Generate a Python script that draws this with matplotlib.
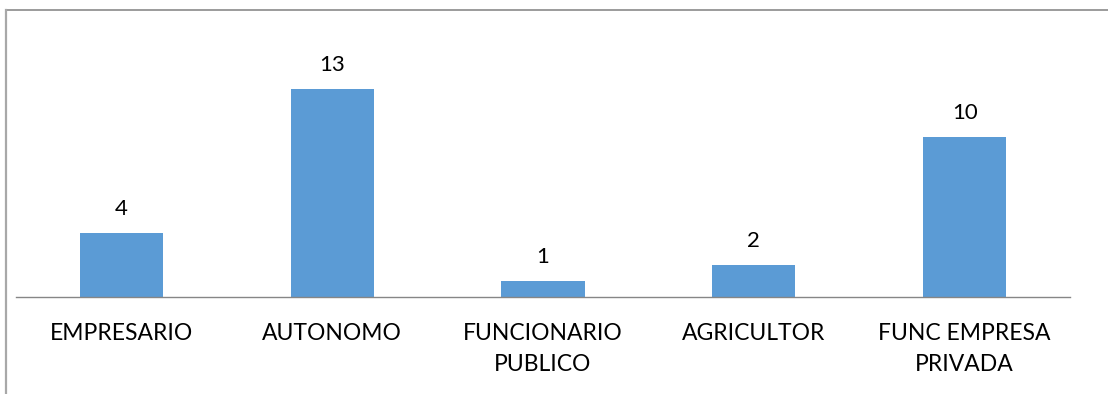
import matplotlib
matplotlib.use('Agg')
import matplotlib.pyplot as plt
from matplotlib.lines import Line2D

categories = ['EMPRESARIO', 'AUTONOMO', 'FUNCIONARIO\nPUBLICO', 'AGRICULTOR', 'FUNC EMPRESA\nPRIVADA']
counts = [4, 13, 1, 2, 10]

bar_color = '#5B9BD5'
plt.rcParams['font.family'] = ['Lato', 'DejaVu Sans']

W, H = 1108, 394
fig = plt.figure(figsize=(W / 100, H / 100), dpi=100)

# plot area in pixels: baseline at y=297, x from 16 to 1070, 16 px per unit
left, right, base = 16, 1070, 297
ymax = 15
ax = fig.add_axes([left / W, (H - base) / H, (right - left) / W, ymax * 16 / H])

x = range(len(categories))
bars = ax.bar(x, counts, width=0.395, color=bar_color, zorder=2)
for b, v in zip(bars, counts):
    ax.text(b.get_x() + b.get_width() / 2, v + 0.85, str(v), ha='center', va='bottom',
            fontsize=16, color='#000000')

ax.set_xlim(-0.5, len(categories) - 0.5)
ax.set_ylim(0, ymax)
ax.set_xticks(list(x))
ax.set_xticklabels(categories, fontsize=16.5, linespacing=1.58)
ax.tick_params(axis='x', length=0, pad=19)
ax.set_yticks([])
for s in ['top', 'right', 'left']:
    ax.spines[s].set_visible(False)
ax.spines['bottom'].set_color('#868686')
ax.spines['bottom'].set_linewidth(1)

# outer frame of the chart area (top and left edges)
fig.add_artist(Line2D([6 / W, 1], [1 - 10 / H, 1 - 10 / H], color='#8a8a8a', lw=1.2,
                      transform=fig.transFigure))
fig.add_artist(Line2D([6 / W, 6 / W], [0, 1 - 10 / H], color='#a8a8a8', lw=1.6,
                      transform=fig.transFigure))

fig.savefig('out.png', dpi=100)
